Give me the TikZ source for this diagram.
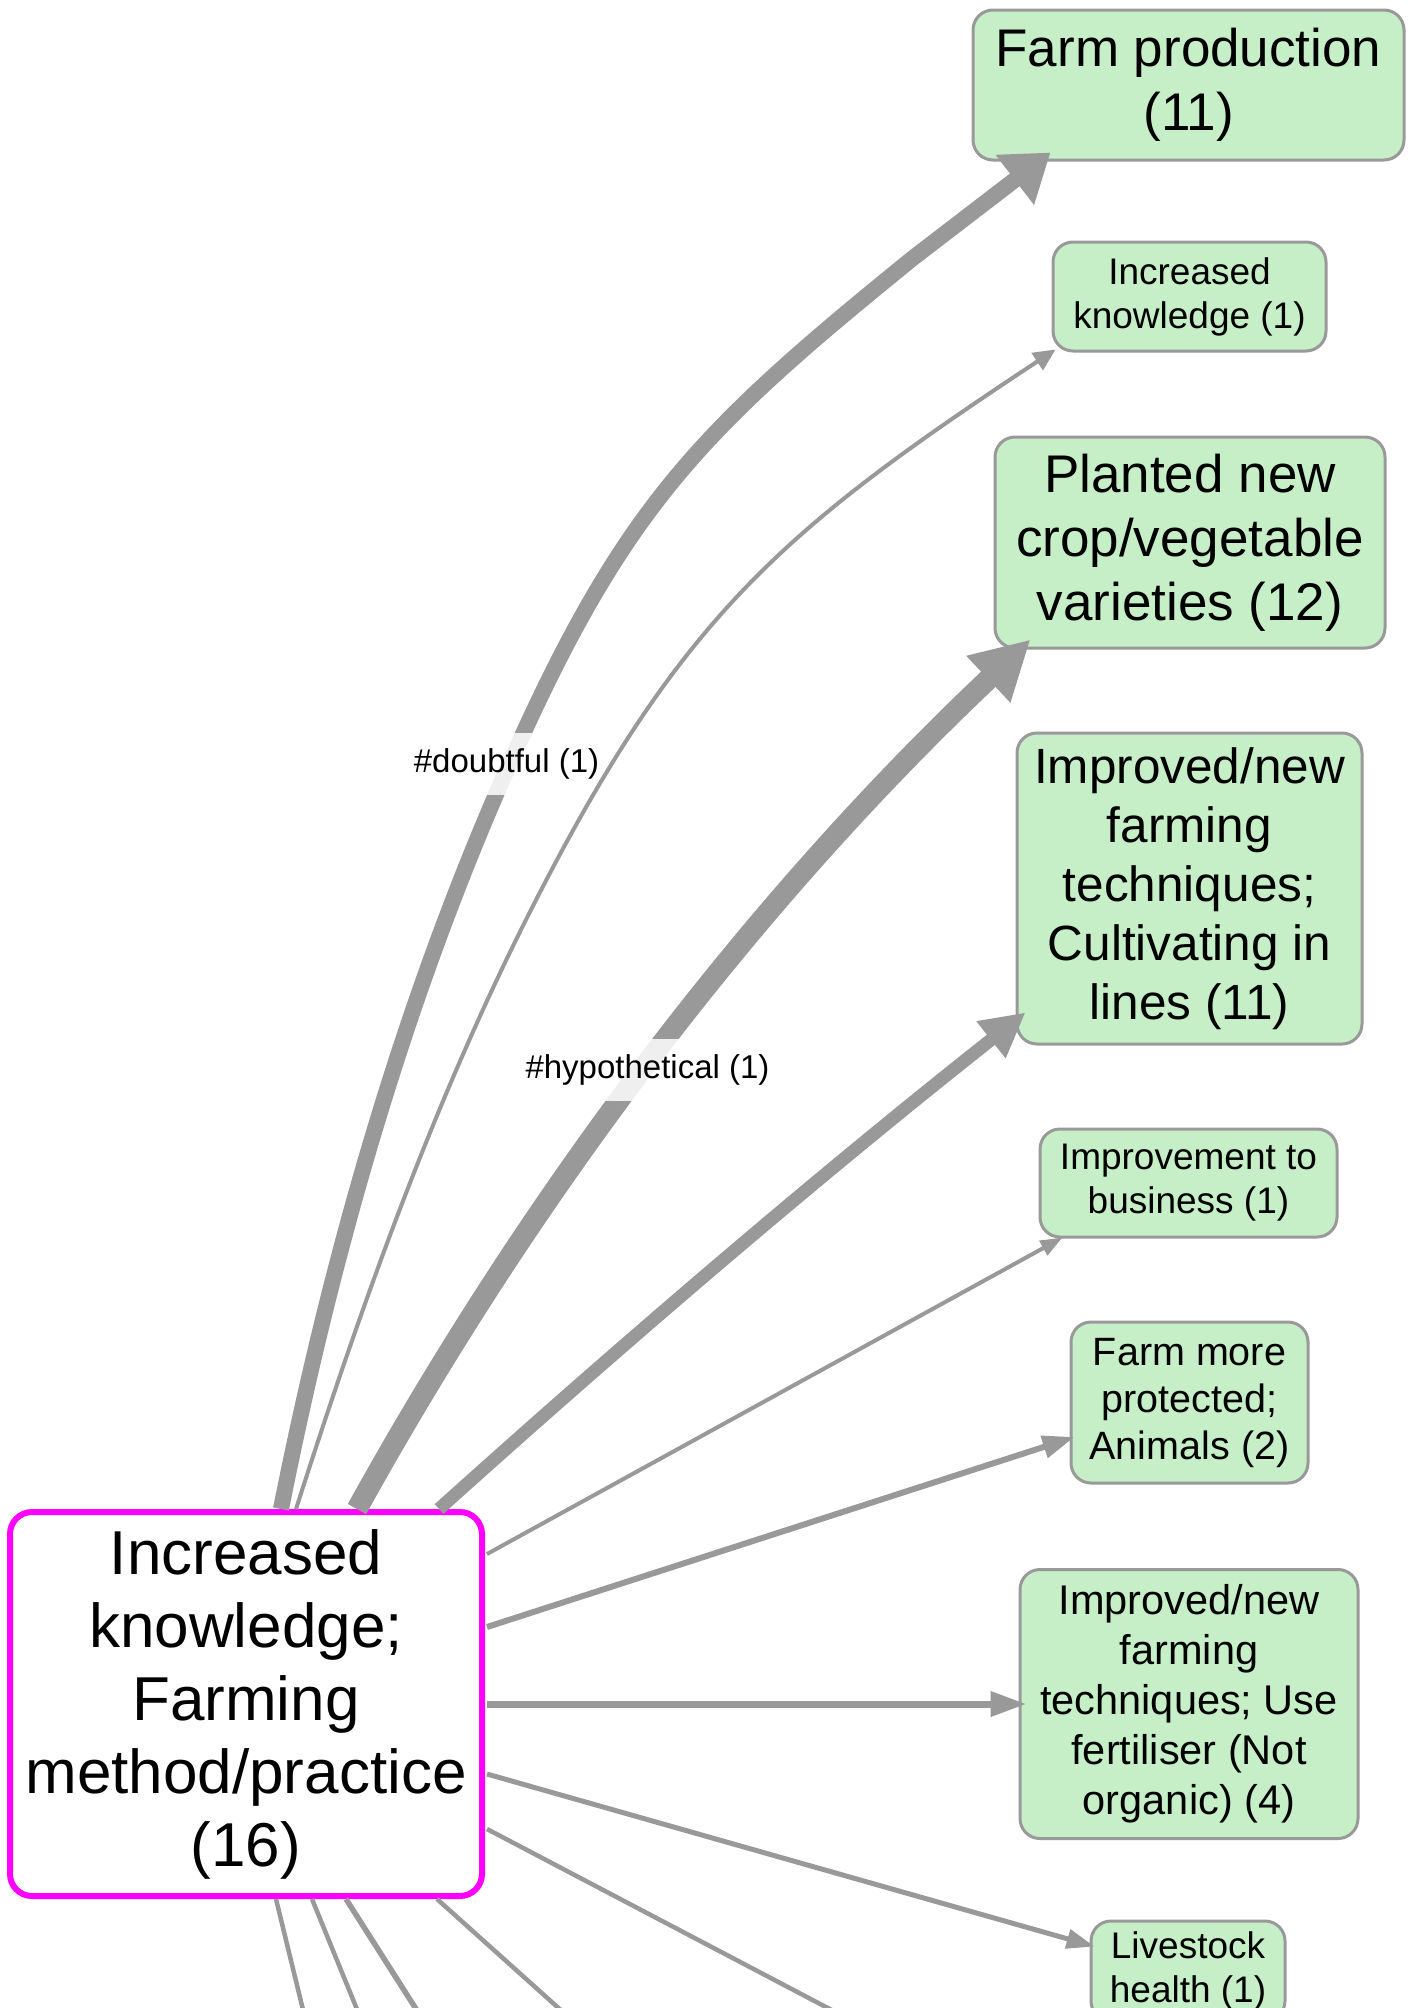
\documentclass[tikz,border=0pt]{standalone}
\usepackage{fontspec}
\setmainfont{Liberation Sans}
\usetikzlibrary{arrows.meta}
\definecolor{edgegray}{RGB}{153,153,153}
\definecolor{nodegreen}{RGB}{198,239,200}
\definecolor{mag}{RGB}{255,0,255}
\begin{document}
\begin{tikzpicture}[x=1pt,y=-1pt,
  box/.style={draw=edgegray, line width=3pt, fill=nodegreen, rounded corners=20pt, inner sep=0pt, align=center, text=black},
  mainbox/.style={draw=mag, line width=6pt, fill=white, rounded corners=22pt, inner sep=0pt, align=center, text=black},
  conn/.style={draw=edgegray, line cap=butt},
  lbl/.style={fill=white, fill opacity=0.85, text opacity=1, inner xsep=2pt, inner ysep=0pt, minimum height=62pt, font=\fontsize{33}{39}\selectfont}
]
\fill[white] (0,0) rectangle (1418,2008);
\useasboundingbox (0,0) rectangle (1418,2008);

% target nodes
\node[box, minimum width=431pt, minimum height=150pt, font=\fontsize{53}{64}\selectfont] (fp) at (1188.5,85) {Farm production\\(11)};
\node[box, minimum width=273pt, minimum height=109pt, font=\fontsize{37}{44}\selectfont] (ik) at (1189.5,296.5) {Increased\\knowledge (1)};
\node[box, minimum width=390pt, minimum height=211pt, font=\fontsize{53}{64}\selectfont] (pn) at (1190,542.5) {Planted new\\crop/vegetable\\varieties (12)};
\node[box, minimum width=345pt, minimum height=311pt, font=\fontsize{49.5}{59}\selectfont] (ci) at (1189.5,888.5) {Improved/new\\farming\\techniques;\\Cultivating in\\lines (11)};
\node[box, minimum width=297pt, minimum height=108pt, font=\fontsize{37}{44}\selectfont] (ib) at (1188.5,1183) {Improvement to\\business (1)};
\node[box, minimum width=237pt, minimum height=161pt, font=\fontsize{39.5}{47}\selectfont] (fm) at (1189.5,1402.5) {Farm more\\protected;\\Animals (2)};
\node[box, minimum width=338pt, minimum height=269pt, font=\fontsize{41.5}{50}\selectfont] (uf) at (1189,1704) {Improved/new\\farming\\techniques; Use\\fertiliser (Not\\organic) (4)};
\node[box, minimum width=194pt, minimum height=100pt, font=\fontsize{37}{44}\selectfont] (lh) at (1188,1971) {Livestock\\health (1)};

% source node
\node[mainbox, minimum width=472pt, minimum height=384pt, font=\fontsize{62}{73}\selectfont] (main) at (246,1704) {Increased\\knowledge;\\Farming\\method/practice\\(16)};

% free ends of edges leaving the picture
\coordinate (o1) at (325,2100);
\coordinate (o2) at (394,2100);
\coordinate (o3) at (474,2100);
\coordinate (o4) at (661,2100);
\coordinate (o5) at (1003,2100);

% edges
\draw[conn, line width=16pt, -{Triangle[length=45pt,width=60pt]}]
  ([xshift=35pt]main.north) .. controls (333,1247) and (410,979) .. (523,734)
  .. controls (631,498) and (711,422) .. (913,258)
  -- ([xshift=79pt,yshift=9pt]fp.south west);
\node[lbl] (l1) at (506.5,764) {\#doubtful (1)};

\draw[conn, line width=4pt, -{Triangle[length=22pt,width=20pt]}]
  ([xshift=50pt]main.north) .. controls (362,1303) and (436,1095) .. (536,900)
  .. controls (682,615) and (785,528) .. ([xshift=4pt,yshift=3pt]ik.south west);

\draw[conn, line width=21pt, -{Triangle[length=58pt,width=60pt]}]
  ([xshift=111pt]main.north) .. controls (543,1173) and (768,887) .. ([xshift=37pt,yshift=10pt]pn.south west);
\node[lbl] (l2) at (647.5,1070) {\#hypothetical (1)};

\draw[conn, line width=13pt, -{Triangle[length=44pt,width=44pt]}]
  ([xshift=193pt]main.north) .. controls (630,1337) and (826,1170) .. ([xshift=10pt,yshift=33pt]ci.south west);

\draw[conn, line width=4pt, -{Triangle[length=22pt,width=16pt]}]
  ([xshift=2pt,yshift=150pt]main.east) -- ([xshift=24pt,yshift=1pt]ib.south west);

\draw[conn, line width=6pt, -{Triangle[length=32pt,width=22pt]}]
  ([xshift=2pt,yshift=77pt]main.east) -- ([xshift=5pt,yshift=-34.5pt]fm.west);

\draw[conn, line width=7pt, -{Triangle[length=36pt,width=24pt]}]
  ([xshift=2pt]main.east) -- ([xshift=8pt]uf.west);

\draw[conn, line width=5pt, -{Triangle[length=28pt,width=19pt]}]
  ([xshift=2pt,yshift=-70pt]main.east) -- ([xshift=5pt,yshift=-27pt]lh.north west);

\draw[conn, line width=4.5pt] ([xshift=30pt]main.south) -- (o1);
\draw[conn, line width=4.5pt] ([xshift=66pt]main.south) -- (o2);
\draw[conn, line width=5.5pt] ([xshift=100pt]main.south) -- (o3);
\draw[conn, line width=4.5pt] ([xshift=191pt]main.south) -- (o4);
\draw[conn, line width=4.5pt] ([xshift=2pt,yshift=-125pt]main.east) -- (o5);
\end{tikzpicture}
\end{document}
